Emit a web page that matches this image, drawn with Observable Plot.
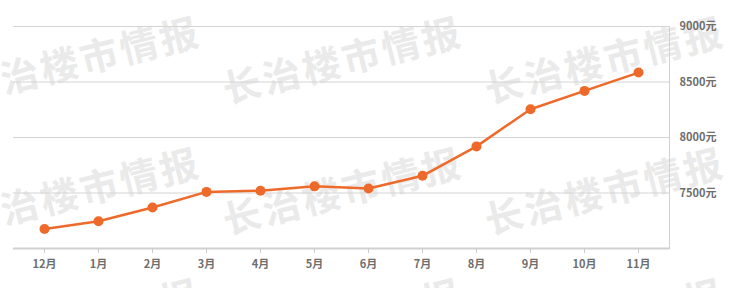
<!DOCTYPE html>
<html>
<head>
<meta charset="utf-8">
<script src="https://cdn.jsdelivr.net/npm/d3@7"></script>
<script src="https://cdn.jsdelivr.net/npm/@observablehq/plot@0.6"></script>
<style>
  html, body { margin: 0; padding: 0; background: #fff; }
  #wrap { position: relative; width: 740px; height: 288px; overflow: hidden; }
  #wm { position: absolute; left: 0; top: 0; width: 740px; height: 288px; z-index: 0; }
  #wm span {
    position: absolute; white-space: nowrap;
    font-family: "Noto Sans CJK SC", sans-serif; font-weight: bold;
    font-size: 38px; letter-spacing: 3px; color: #eaeaea;
    transform: translate(-50%, -50%) rotate(-14deg);
  }
  #chart { position: relative; z-index: 1; }
  #chart svg { display: block; }
  #chart svg text { font-weight: bold; }
</style>
</head>
<body>
<div id="wrap">
  <div id="wm"></div>
  <div id="chart"></div>
</div>
<script>
const months = ["12月", "1月", "2月", "3月", "4月", "5月", "6月", "7月", "8月", "9月", "10月", "11月"];
const prices = [7175, 7245, 7370, 7510, 7520, 7560, 7540, 7655, 7920, 8255, 8420, 8585];
const yTicks = [7500, 8000, 8500, 9000];
const watermarkText = "长治楼市情报";

const data = months.map((m, i) => ({month: m, price: prices[i]}));

// watermark tiling (decoration)
const wm = document.getElementById("wm");
const cols = [80, 342, 604];
const rows = [58, 189, 320];
for (const r of rows) for (const c of cols) {
  const s = document.createElement("span");
  s.textContent = watermarkText;
  s.style.left = c + "px";
  s.style.top = r + "px";
  wm.appendChild(s);
}

const orange = "#ee6a2b";
const chart = Plot.plot({
  width: 740,
  height: 288,
  marginLeft: 13,
  marginRight: 71,
  marginTop: 26,
  marginBottom: 40,
  style: {background: "transparent", fontFamily: "'Noto Sans CJK SC', sans-serif", fontSize: "11px", color: "#666"},
  x: {type: "point", domain: months, padding: 0.5, label: null},
  y: {domain: [7000, 9000], label: null},
  marks: [
    Plot.ruleY(yTicks, {stroke: "#d4d4d4", strokeWidth: 1}),
    Plot.frame({anchor: "right", stroke: "#d0d0d0"}),
    Plot.ruleY([7000], {stroke: "#d0d0d0", strokeWidth: 2}),
    Plot.axisX({tickSize: 5, tickPadding: 7, stroke: "#cccccc", fill: "#6e6e6e", fontSize: 11, label: null}),
    Plot.axisY(yTicks, {anchor: "right", tickSize: 0, tickPadding: 10, fill: "#6e6e6e", fontSize: 11, tickFormat: d => d + "元", label: null}),
    Plot.line(data, {x: "month", y: "price", stroke: orange, strokeWidth: 2.5}),
    Plot.dot(data, {x: "month", y: "price", r: 5, fill: orange, stroke: "none"})
  ]
});
document.getElementById("chart").appendChild(chart);
</script>
</body>
</html>
